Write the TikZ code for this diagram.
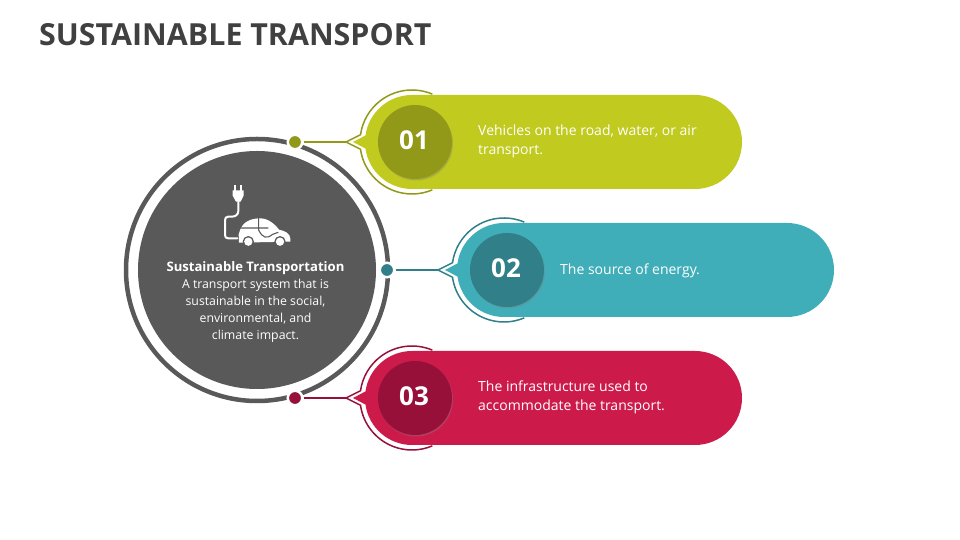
\documentclass[tikz,border=0pt]{standalone}
\usepackage{fontspec}
\setmainfont{Open Sans}
\usepackage{xcolor}
\usetikzlibrary{calc}
\usetikzlibrary{shadows}

\definecolor{limeA}{HTML}{C1CA1F}
\definecolor{limeB}{HTML}{929817}
\definecolor{tealA}{HTML}{40AEB8}
\definecolor{tealB}{HTML}{318089}
\definecolor{redA}{HTML}{CC1B4B}
\definecolor{redB}{HTML}{96103A}
\definecolor{hubgray}{HTML}{595959}
\definecolor{titlegray}{HTML}{404040}

\tikzset{
  dotnode/.style={circle,draw=white,line width=2.5pt,minimum size=14.5pt,inner sep=0pt},
  numnode/.style={circle,minimum size=74pt,inner sep=0pt,
    drop shadow={shadow xshift=1pt,shadow yshift=-1.5pt,opacity=.35}},
  numtext/.style={text=white,inner sep=0pt,font=\fontsize{26}{30}\selectfont\bfseries},
  cardtext/.style={anchor=west,align=left,text=white,inner sep=0pt,font=\fontsize{14}{18.5}\selectfont},
  hubtext/.style={align=center,text=white,inner sep=0pt,font=\fontsize{12.3}{17}\selectfont},
  iconline/.style={draw=white,line width=2pt,line cap=round,line join=round}
}

\begin{document}
\begin{tikzpicture}[x=1pt,y=1pt]

        \useasboundingbox (0,0) rectangle (960,540);

        % Title
        \node[anchor=west,inner sep=0pt,text=titlegray,font=\fontsize{30.4}{36}\selectfont\bfseries] (title) at (39,505.5) {SUSTAINABLE TRANSPORT};

        % Hub
        \coordinate (hub) at (257,270);
        \draw[hubgray,line width=4.5pt] (hub) circle (131);
        \fill[hubgray] (hub) circle (119);

        % Icon
        \begin{scope}[shift={(210,365)},x=0.3333pt,y=-0.3333pt]
          \fill[white] (73,31) rectangle (79,49);
          \fill[white] (89,31) rectangle (95,49);
          \fill[white] (68,46) -- (101,46) -- (101,62) -- (92,80) -- (78,80) -- (68,62) -- cycle;
          \draw[iconline] (85,78) -- (85,108) .. controls (85,120) and (75,125) .. (65,125) -- (55,125)
            .. controls (48,125) and (45,129) .. (45,136) -- (45,180)
            .. controls (45,187) and (48,190) .. (55,190) -- (82,190);
          \fill[white] (87,203) -- (86,178) -- (92,160) .. controls (100,143) and (120,130) .. (150,130)
            .. controls (175,130) and (195,148) .. (207,164) .. controls (225,168) and (240,175) .. (241,190)
            -- (241,200) -- cycle;
          \draw[hubgray,line width=1.1pt] (146,128) -- (146,165) (90,159) -- (175,159) (146,165) .. controls (158,190) and (170,192) .. (188,178) -- (205,172);
          \fill[hubgray] (115,200) circle (17);
          \fill[hubgray] (210,200) circle (17);
          \fill[white] (115,200) circle (12.5);
          \fill[white] (210,200) circle (12.5);
        \end{scope}

        % Hub text
        \node[hubtext,font=\fontsize{13.1}{17}\selectfont\bfseries] (hubtitle) at (255.5,272) {Sustainable Transportation};
        \node[hubtext,anchor=north] (hubbody) at (255.5,261) {A transport system that is\\sustainable in the social,\\environmental, and\\climate impact.};

        % Cards
        \foreach \n/\cx/\cy/\xe/\nx/\colA/\colB/\num in {1/412/398/742/415/limeA/limeB/01,
                                                        2/504/270/834/507/tealA/tealB/02,
                                                        3/412/142/742/415/redA/redB/03}
        {
          \coordinate (C\n) at (\cx,\cy);
          \coordinate (tip\n) at ($(C\n)+(-66,0)$);
          % Outline
          \draw[\colB,line width=1.5pt,line join=miter]
            ($(C\n)+(67:52)$) arc[start angle=67,end angle=172,radius=52] -- (tip\n)
            -- ($(C\n)+(188:52)$) arc[start angle=188,end angle=293,radius=52];
          % Band
          \fill[\colA] ($(C\n)+(0,47)$) -- (\xe-47,\cy+47) arc[start angle=90,end angle=-90,radius=47]
            -- ($(C\n)+(0,-47)$) arc[start angle=-90,end angle=-172,radius=47]
            -- ($(C\n)+(-59,0)$) -- ($(C\n)+(172:47)$) arc[start angle=172,end angle=90,radius=47] -- cycle;
          % Number
          \node[numnode,fill=\colB] (num\n) at (\nx,\cy) {};
          \node[numtext] (label\n) at (\nx-1,\cy+1.5) {\num};
        }

        % Dots and connectors
        \node[dotnode,fill=limeB] (dot1) at (295,398) {};
        \node[dotnode,fill=tealB] (dot2) at (387,270) {};
        \node[dotnode,fill=redB] (dot3) at (295,142) {};
        \draw[limeB,line width=1.6pt] (dot1) -- (tip1);
        \draw[tealB,line width=1.6pt] (dot2) -- (tip2);
        \draw[redB,line width=1.6pt] (dot3) -- (tip3);

        % Card text
        \node[cardtext] (text1) at (478,398.5) {Vehicles on the road, water, or air\\transport.};
        \node[cardtext] (text2) at (560,269) {The source of energy.};
        \node[cardtext] (text3) at (478,142.5) {The infrastructure used to\\accommodate the transport.};

\end{tikzpicture}
\end{document}
